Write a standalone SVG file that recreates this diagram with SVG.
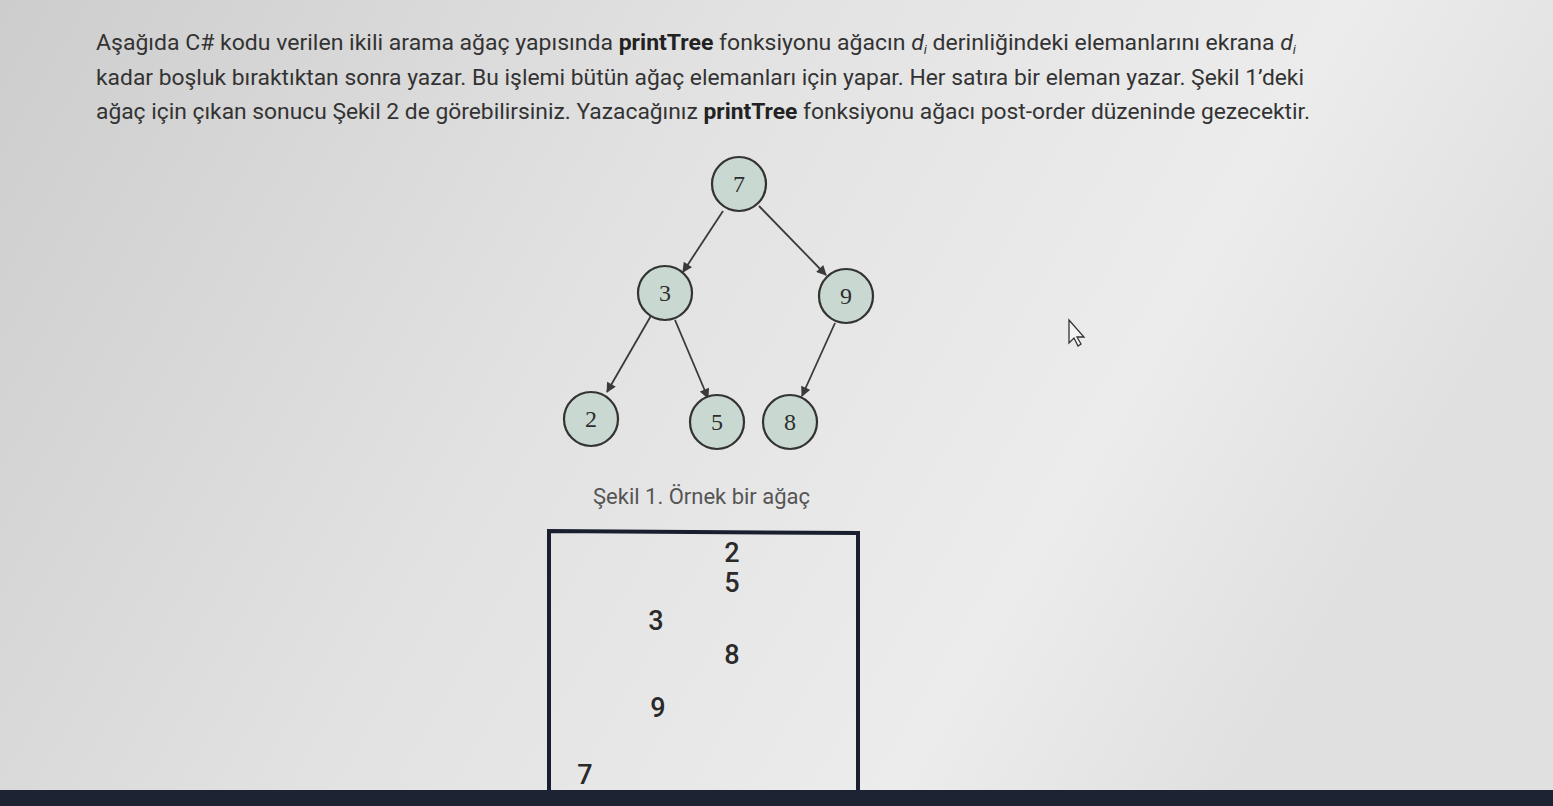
<svg xmlns="http://www.w3.org/2000/svg" width="1553" height="806" viewBox="0 0 1553 806">
<style>
.para{font-family:Roboto,"Liberation Sans",sans-serif;font-size:22.5px;fill:#333;}
.b{font-weight:bold;fill:#222;}
.node circle{fill:#c9d9d1;stroke:#333;stroke-width:2.2;}
.node text{font-family:"Liberation Serif","Times New Roman",serif;font-size:24px;fill:#2e2e2e;text-anchor:middle;}
.edge{stroke:#3a3a3a;stroke-width:1.8;fill:none;marker-end:url(#ah);}
.cap{font-family:Roboto,"Liberation Sans",sans-serif;font-size:22px;fill:#555;}
.out{font-family:Roboto,"Liberation Sans",sans-serif;font-size:27px;font-weight:500;fill:#2a2a2a;text-anchor:middle;}
</style>
<defs>
<linearGradient id="bg" x1="0" y1="0" x2="1" y2="0.3">
<stop offset="0" stop-color="#cdcdcd"/>
<stop offset="0.45" stop-color="#e2e2e2"/>
<stop offset="0.8" stop-color="#ececec"/>
<stop offset="1" stop-color="#e0e0e0"/>
</linearGradient>
<marker id="ah" viewBox="0 0 10 10" refX="9" refY="5" markerWidth="11" markerHeight="10" orient="auto" markerUnits="userSpaceOnUse">
<path d="M0,0 L10,5 L0,10 z" fill="#3a3a3a"/>
</marker>
</defs>
<rect width="1553" height="806" fill="url(#bg)"/>
<g id="paragraph">
<text class="para" x="96" y="50" textLength="1200" lengthAdjust="spacingAndGlyphs">Aşağıda C# kodu verilen ikili arama ağaç yapısında <tspan class="b">printTree</tspan> fonksiyonu ağacın <tspan font-style="italic">d</tspan><tspan font-style="italic" font-size="13" dy="4">i</tspan><tspan dy="-4"> derinliğindeki elemanlarını ekrana </tspan><tspan font-style="italic">d</tspan><tspan font-style="italic" font-size="13" dy="4">i</tspan></text>
<text class="para" x="96" y="85" textLength="1208" lengthAdjust="spacingAndGlyphs">kadar boşluk bıraktıktan sonra yazar. Bu işlemi bütün ağaç elemanları için yapar. Her satıra bir eleman yazar. Şekil 1’deki</text>
<text class="para" x="96" y="119" textLength="1214" lengthAdjust="spacingAndGlyphs">ağaç için çıkan sonucu Şekil 2 de görebilirsiniz. Yazacağınız <tspan class="b">printTree</tspan> fonksiyonu ağacı post-order düzeninde gezecektir.</text>
</g>
<g id="connectors">
<line class="edge" x1="723" y1="211" x2="683" y2="272"/>
<line class="edge" x1="759" y1="206" x2="826" y2="275"/>
<line class="edge" x1="652" y1="314" x2="607" y2="392"/>
<line class="edge" x1="675" y1="320" x2="708" y2="398"/>
<line class="edge" x1="835" y1="323" x2="802" y2="396"/>
</g>
<g id="node7" class="node"><circle cx="739" cy="184" r="27"/><text x="739" y="192">7</text></g>
<g id="node3" class="node"><circle cx="665" cy="293" r="27"/><text x="665" y="301">3</text></g>
<g id="node9" class="node"><circle cx="846" cy="296" r="27"/><text x="846" y="304">9</text></g>
<g id="node2" class="node"><circle cx="591" cy="419" r="27"/><text x="591" y="427">2</text></g>
<g id="node5" class="node"><circle cx="717" cy="422" r="27"/><text x="717" y="430">5</text></g>
<g id="node8" class="node"><circle cx="790" cy="422" r="27"/><text x="790" y="430">8</text></g>
<text class="cap" x="593" y="504">Şekil 1. Örnek bir ağaç</text>
<g id="output">
<path d="M549,806 L549,531 L858,533 L858,806" fill="none" stroke="#1a1f30" stroke-width="4"/>
<text class="out" x="732" y="562">2</text>
<text class="out" x="732" y="592">5</text>
<text class="out" x="656" y="630">3</text>
<text class="out" x="732" y="664">8</text>
<text class="out" x="658" y="717">9</text>
<text class="out" x="585" y="784">7</text>
</g>
<rect x="0" y="790" width="1553" height="16" fill="#1d2333"/>
<path d="M1069,320 L1069,343 L1074,338 L1078,346 L1081,344 L1077,337 L1084,337 Z" fill="#f4f4f4" stroke="#333" stroke-width="1.3"/>
</svg>
